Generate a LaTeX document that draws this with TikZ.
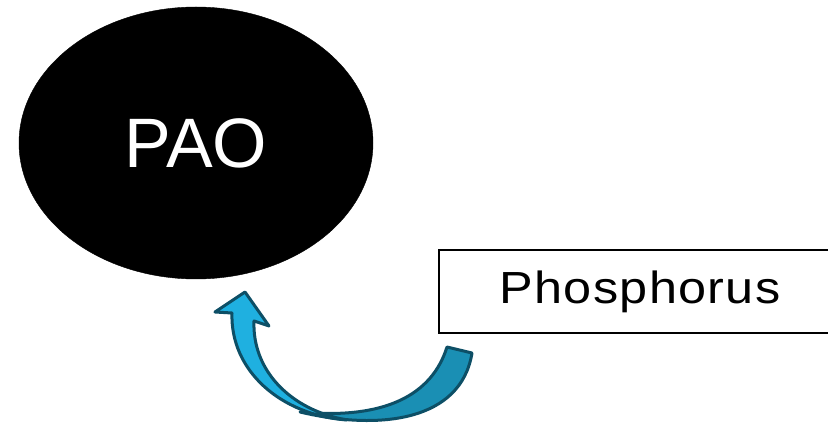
\documentclass[tikz,border=0pt]{standalone}
\usepackage{fontspec}
\setmainfont{Liberation Sans}
\newfontfamily\widefont[FakeStretch=1.12,LetterSpace=3]{Liberation Sans}
\usetikzlibrary{shapes.geometric}
\definecolor{arrlight}{HTML}{1FB0E0}
\definecolor{arrdark}{HTML}{1A8FB4}
\definecolor{arredge}{HTML}{0D4F66}
\tikzset{
  paonode/.style={ellipse, fill=black, draw=black, minimum width=354pt, minimum height=272pt, inner sep=0pt, text=white, font=\fontsize{70}{84}\selectfont},
  boxnode/.style={rectangle, draw=black, line width=2pt, minimum width=402pt, minimum height=83pt, inner sep=0pt, font=\widefont\fontsize{45}{54}\selectfont},
  arrowpart/.style={draw=arredge, line width=3pt, line join=round}
}
\begin{document}
\begin{tikzpicture}[x=1pt,y=-1pt]
\clip (0,0) rectangle (828,427);
\fill[white] (0,0) rectangle (828,427);
\node[paonode] (pao) at (196,143) {PAO};
\node[boxnode] (phos) at (640,291.5) {Phosphorus};
% curved block arrow: back (dark) band
\path[arrowpart, fill=arrdark] (447,347) .. controls (432,395) and (385,420) .. (300,412)
   .. controls (380,431) and (461,421) .. (472,353) -- cycle;
% front (light) band with head
\path[arrowpart, fill=arrlight] (232,313) .. controls (230,370) and (280,415) .. (347,420)
   .. controls (290,410) and (252,370) .. (254,321)
   -- (269,326) -- (245,292) -- (215,312) -- cycle;
\end{tikzpicture}
\end{document}
